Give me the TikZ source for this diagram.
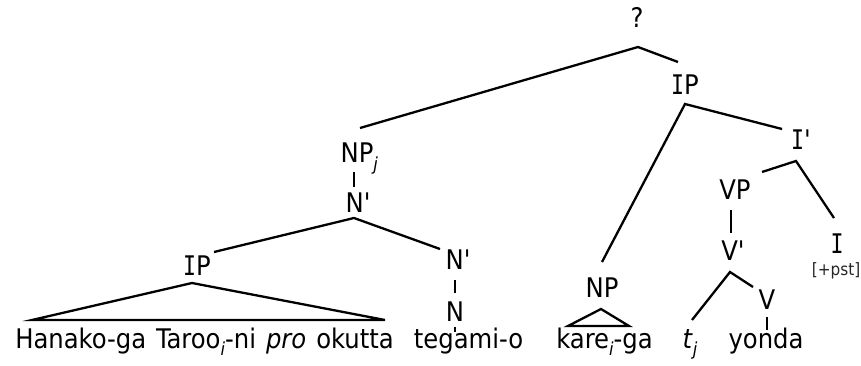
\documentclass[tikz,border=0pt]{standalone}
\usepackage{fontspec}
\setmainfont{DejaVu Sans Condensed}[Ligatures=TeXOff]
% slab-serif capital I for the inflection labels
\newfontfamily\slabfont{DejaVu Sans Mono}[FakeStretch=0.8, Ligatures=TeXOff]
\newcommand\catI{{\slabfont I}}
% lowered italic index letter (coindexation)
\newcommand\idx[1]{\raisebox{-0.28em}{\fontsize{18}{18}\selectfont\itshape #1}}
\begin{document}
\begin{tikzpicture}[x=1pt, y=-1pt, line width=2.3pt,
  lbl/.style={anchor=base, inner sep=0pt, font=\fontsize{27}{27}\selectfont},
  feat/.style={anchor=base, inner sep=0pt, font=\fontsize{17}{17}\selectfont, text=black!85}]
\useasboundingbox (0,0) rectangle (861,366);

% category labels
\node[lbl] (q)    at (637,28)  {?};
\node[lbl] (ipA)  at (685,95)  {\catI P};
\node[lbl] (ib)   at (801,150) {\catI'};
\node[lbl] (vp)   at (735,200) {VP};
\node[lbl] (vb)   at (733,260) {V'};
\node[lbl] (v)    at (767,309) {V};
\node[lbl] (i)    at (837,253) {\catI};
\node[feat] (pst) at (836,275) {[+pst]};
\node[lbl] (npj)  at (357,163) {NP\rlap{\idx{j}}};
\node[lbl] (nb1)  at (358,212) {N'};
\node[lbl] (ipB)  at (197,275) {\catI P};
\node[lbl] (nb2)  at (458,269) {N'};
\node[lbl] (n)    at (455,321) {N};
\node[lbl] (np)   at (602,297) {NP};

% terminal string
\node[lbl] (hana)  at (204.5,348) {\spaceskip=10pt Hanako-ga Taroo\idx{i}-ni \textit{pro} okutta};
\node[lbl] (teg)   at (468.5,348) {tegami-o};
\node[lbl] (kare)  at (604.5,348) {kare\idx{i}-ga};
\node[lbl] (tj)    at (690,348)   {\textit{t}\idx{j}};
\node[lbl] (yonda) at (766,348)   {yonda};

% branches
\draw ([shift={(3,-35)}]npj.base) -- ([shift={(1,19)}]q.base) -- ([shift={(-7,-33)}]ipA.base);
\draw ([shift={(0,-35)}]np.base) -- ([shift={(0,9)}]ipA.base) -- ([shift={(-19,-21)}]ib.base);
\draw ([shift={(27,-28)}]vp.base) -- ([shift={(-5,11)}]ib.base) -- ([shift={(-3,-35)}]i.base);
\draw ([shift={(-4,10)}]vp.base) -- ([shift={(-2,-27)}]vb.base);
\draw ([shift={(2,-28)}]tj.base) -- ([shift={(-3,12)}]vb.base) -- ([shift={(-14,-22)}]v.base);
\draw ([shift={(0,8)}]v.base) -- ([shift={(1,-18)}]yonda.base);
\draw ([shift={(-34,29)}]np.base) -- ([shift={(-1,12)}]np.base) -- ([shift={(27,29)}]np.base) -- cycle;
\draw ([shift={(-3,9)}]npj.base) -- ([shift={(-4,-25)}]nb1.base);
\draw ([shift={(17,-23)}]ipB.base) -- ([shift={(-4,6)}]nb1.base) -- ([shift={(-18,-20)}]nb2.base);
\draw ([shift={(-3,11)}]nb2.base) -- ([shift={(0,-28)}]n.base);
\draw ([shift={(0,6)}]n.base) -- ([shift={(-13.5,-16)}]teg.base);
\draw ([shift={(-172.5,-28)}]hana.base) -- ([shift={(-5,8)}]ipB.base) -- ([shift={(180.5,-28)}]hana.base) -- cycle;
\end{tikzpicture}
\end{document}
